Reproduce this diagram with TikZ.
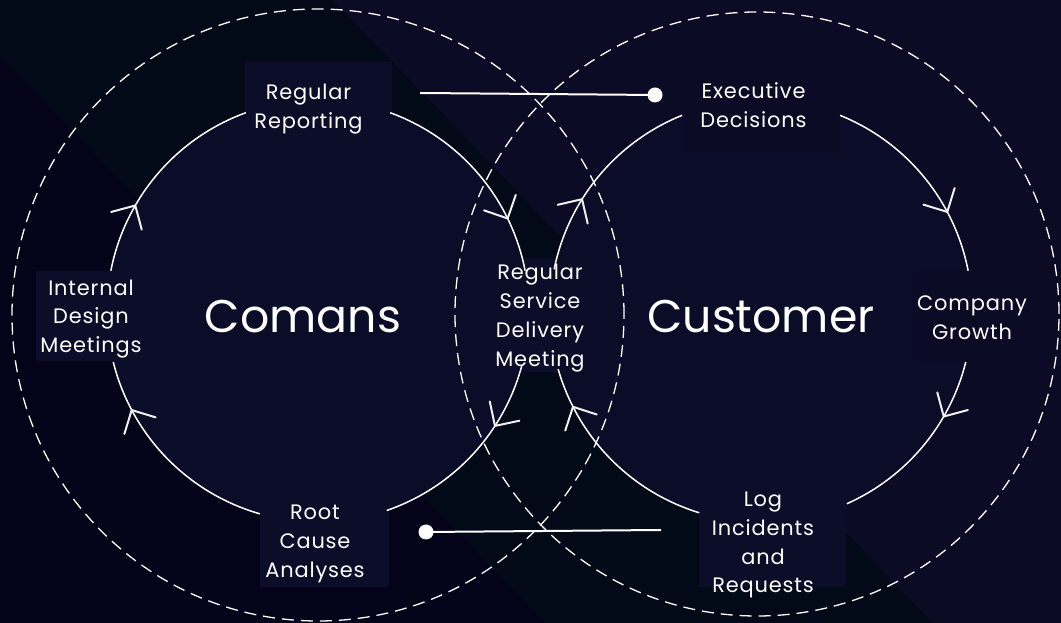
\documentclass[tikz,border=0pt]{standalone}
\usepackage{fontspec}
\setmainfont{Poppins}
\newfontfamily\lblfont[LetterSpace=4]{Poppins}
\usetikzlibrary{calc}
\definecolor{bandA}{HTML}{04031A}
\definecolor{bandB}{HTML}{020A18}
\definecolor{bandC}{HTML}{0C0B25}
\definecolor{navy}{HTML}{0B0C28}
\definecolor{boxc}{HTML}{0B0D29}
\begin{document}
\begin{tikzpicture}[x=1bp,y=1bp,
  lbl/.style={text=white, align=center, inner sep=0pt, font=\lblfont\fontsize{21}{29}\selectfont},
  big/.style={text=white, inner sep=0pt, font=\fontsize{46}{50}\selectfont},
  boxnode/.style={fill=boxc, draw=none, inner sep=0pt, anchor=south west},
  ring/.style={draw=white, line width=1.5bp},
  dashring/.style={draw=white, line width=1.3bp, dash pattern=on 12bp off 7bp},
  chev/.style={draw=white!88!gray, line width=2bp, line cap=round},
  conn/.style={draw=white, line width=2bp},
  dot/.style={circle, fill=white, inner sep=0pt, minimum size=15bp}
]
\useasboundingbox (0,0) rectangle (1061,623);
% background bands
\fill[bandA] (0,0) rectangle (1061,623);
\fill[bandB] (0,568) -- (545,0) -- (933,0) -- (333,623) -- (0,623) -- cycle;
\fill[bandC] (333,623) -- (933,0) -- (1061,0) -- (1061,623) -- cycle;
% inner circle fills
\coordinate (cL) at (318,312);
\coordinate (cR) at (761,312);
\fill[navy] (cL) circle[radius=211bp];
\fill[navy] (cR) circle[radius=211bp];
% dashed outer circles
\coordinate (oL) at (318,308);
\coordinate (oR) at (757,309);
\draw[dashring] (oL) circle[radius=306bp];
\draw[dashring] (oR) circle[radius=302bp];
% label boxes
\node[boxnode, minimum width=147bp, minimum height=90bp] (rrbox) at (245,471) {};
\node[boxnode, fill=bandC, minimum width=157bp, minimum height=90bp] (edbox) at (683,471) {};
\node[boxnode, minimum width=110bp, minimum height=90bp] (idmbox) at (36,262) {};
\node[boxnode, minimum width=104bp, minimum height=114bp] (rsdmbox) at (488,251) {};
\node[boxnode, fill=bandC, minimum width=110bp, minimum height=92bp] (cgbox) at (918,261) {};
\node[boxnode, minimum width=129bp, minimum height=92bp] (rcabox) at (260,36) {};
\node[boxnode, minimum width=147bp, minimum height=107bp] (lirbox) at (699,36) {};
% inner ring arcs
\foreach \s/\e in {110/169, 194/254, 289/345, 11/70}
  \draw[ring] ($(cL)+(\s:211bp)$) arc[start angle=\s, end angle=\e, radius=211bp];
\foreach \s/\e in {112/168.6, 196/253, 294/346, 11/68}
  \draw[ring] ($(cR)+(\s:211bp)$) arc[start angle=\s, end angle=\e, radius=211bp];
% chevrons (clockwise flow)
\foreach \a in {150,208,26,-33} {
  \pgfmathsetmacro\aa{\a+45}\pgfmathsetmacro\ab{\a+135}
  \draw[chev] ($(cL)+(\a:211bp)+(\aa:25bp)$) -- ($(cL)+(\a:211bp)$) -- ($(cL)+(\a:211bp)+(\ab:25bp)$);
}
\foreach \a in {148,207,28,-30} {
  \pgfmathsetmacro\aa{\a+45}\pgfmathsetmacro\ab{\a+135}
  \draw[chev] ($(cR)+(\a:211bp)+(\aa:25bp)$) -- ($(cR)+(\a:211bp)$) -- ($(cR)+(\a:211bp)+(\ab:25bp)$);
}
% connectors
\coordinate (rrEnd) at (420,530);
\node[dot] (edDot) at (655,528) {};
\draw[conn] (rrEnd) -- (edDot.center);
\node[dot] (rcaDot) at (426,91) {};
\coordinate (lirEnd) at (661,93);
\draw[conn] (lirEnd) -- (rcaDot.center);
% texts
\node[lbl] (rr) at (308.5,514) {Regular\\Reporting};
\node[lbl] (ed) at (753.5,518) {Executive\\Decisions};
\node[lbl] (idm) at (91,304) {Internal\\Design\\Meetings};
\node[lbl] (rsdm) at (540,305) {Regular\\Service\\Delivery\\Meeting};
\node[lbl] (cg) at (972,305) {Company\\Growth};
\node[lbl] (rca) at (315,79) {Root\\Cause\\Analyses};
\node[lbl] (lir) at (763,78) {Log\\Incidents\\and\\Requests};
\node[big] (comans) at (303,306) {Comans};
\node[big] (cust) at (761,306) {Customer};
\end{tikzpicture}
\end{document}
